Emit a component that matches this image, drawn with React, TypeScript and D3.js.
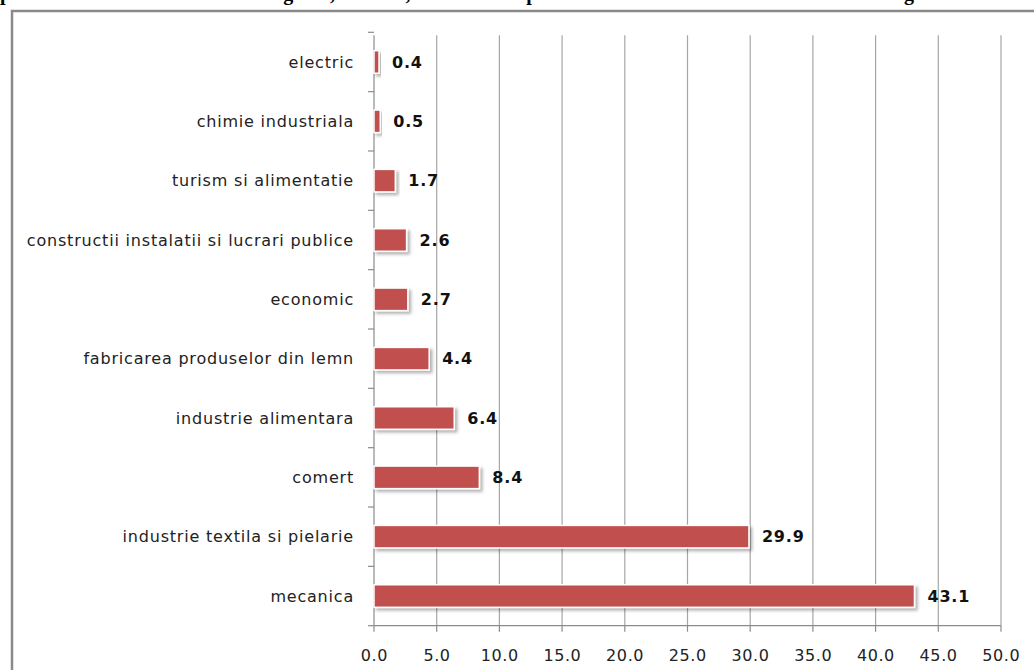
import React from "react";
import * as d3 from "d3";

const categories = [
  "electric",
  "chimie industriala",
  "turism si alimentatie",
  "constructii instalatii si lucrari publice",
  "economic",
  "fabricarea produselor din lemn",
  "industrie alimentara",
  "comert",
  "industrie textila si pielarie",
  "mecanica",
];
const values = [0.4, 0.5, 1.7, 2.6, 2.7, 4.4, 6.4, 8.4, 29.9, 43.1];
const xTicks = [0, 5, 10, 15, 20, 25, 30, 35, 40, 45, 50];
const titleText =
  "ponderea absolventilor total in regiune, 2010-11, in functie de profilul de formare cat si de domeniul din regiune";

const W = 1034;
const H = 670;
const left = 374;
const right = 1001;
const top = 32.3;
const bottom = 625.7;

export default function App() {
  const x = d3.scaleLinear().domain([0, 50]).range([left, right]);
  const y = d3
    .scaleBand<string>()
    .domain(categories)
    .range([top, bottom])
    .paddingInner(0.62)
    .paddingOuter(0.31);
  const step = y.step();
  const font = "'DejaVu Sans', Verdana, sans-serif";

  return (
    <svg
      width={W}
      height={H}
      style={{ position: "absolute", left: 0, top: 0, background: "#fff" }}
    >
      <defs>
        <filter id="barShadow" x="-10%" y="-30%" width="130%" height="180%">
          <feDropShadow dx="2.5" dy="2.5" stdDeviation="1.6" floodColor="#000" floodOpacity="0.3" />
        </filter>
      </defs>

      {/* title (runs above the page edge) */}
      <text
        x={0}
        y={0}
        fontFamily="'Liberation Serif', 'Times New Roman', serif"
        fontWeight="bold"
        fontSize={20}
        fill="#000"
      >
        {titleText}
      </text>

      {/* chart frame */}
      <path
        d={`M12,${H + 5} L12,11 L${W + 5},11`}
        fill="none"
        stroke="#8a8a8a"
        strokeWidth={2.5}
      />

      {/* vertical gridlines */}
      {xTicks.slice(1).map((t) => (
        <line
          key={"g" + t}
          x1={x(t)}
          x2={x(t)}
          y1={top + 3}
          y2={bottom}
          stroke="#a6a6a6"
          strokeWidth={1.2}
        />
      ))}

      {/* category axis */}
      <line x1={left} x2={left} y1={top + 3} y2={bottom} stroke="#8c8c8c" strokeWidth={1.2} />
      {d3.range(categories.length + 1).map((i) => (
        <line
          key={"yt" + i}
          x1={left - 6}
          x2={left}
          y1={top + i * step}
          y2={top + i * step}
          stroke="#8c8c8c"
          strokeWidth={1.2}
        />
      ))}

      {/* value axis */}
      <line x1={left} x2={right} y1={bottom} y2={bottom} stroke="#8c8c8c" strokeWidth={1.2} />
      {xTicks.map((t) => (
        <g key={"xt" + t}>
          <line x1={x(t)} x2={x(t)} y1={bottom} y2={bottom + 6} stroke="#8c8c8c" strokeWidth={1.2} />
          <text
            x={x(t) + 0.3}
            y={bottom + 35}
            textAnchor="middle"
            fontFamily={font}
            fontSize={16}
            letterSpacing={0.6}
            fill="#222"
          >
            {t.toFixed(1)}
          </text>
        </g>
      ))}

      {/* bars with value labels */}
      {categories.map((c, i) => {
        const yy = y(c)!;
        const bh = y.bandwidth();
        return (
          <g key={c}>
            <rect
              x={x(0)}
              y={yy}
              width={x(values[i]) - x(0)}
              height={bh}
              fill="#c0504d"
              stroke="#fff"
              strokeWidth={1.5}
              filter="url(#barShadow)"
            />
            <text
              x={x(values[i]) + 13}
              y={yy + bh / 2}
              dy="0.36em"
              fontFamily={font}
              fontWeight="bold"
              fontSize={16}
              letterSpacing={0.8}
              fill="#111"
            >
              {values[i].toFixed(1)}
            </text>
            <text
              x={left - 20}
              y={yy + bh / 2}
              dy="0.36em"
              textAnchor="end"
              fontFamily={font}
              fontSize={16}
              letterSpacing={0.8}
              fill="#222"
            >
              {c}
            </text>
          </g>
        );
      })}
    </svg>
  );
}
